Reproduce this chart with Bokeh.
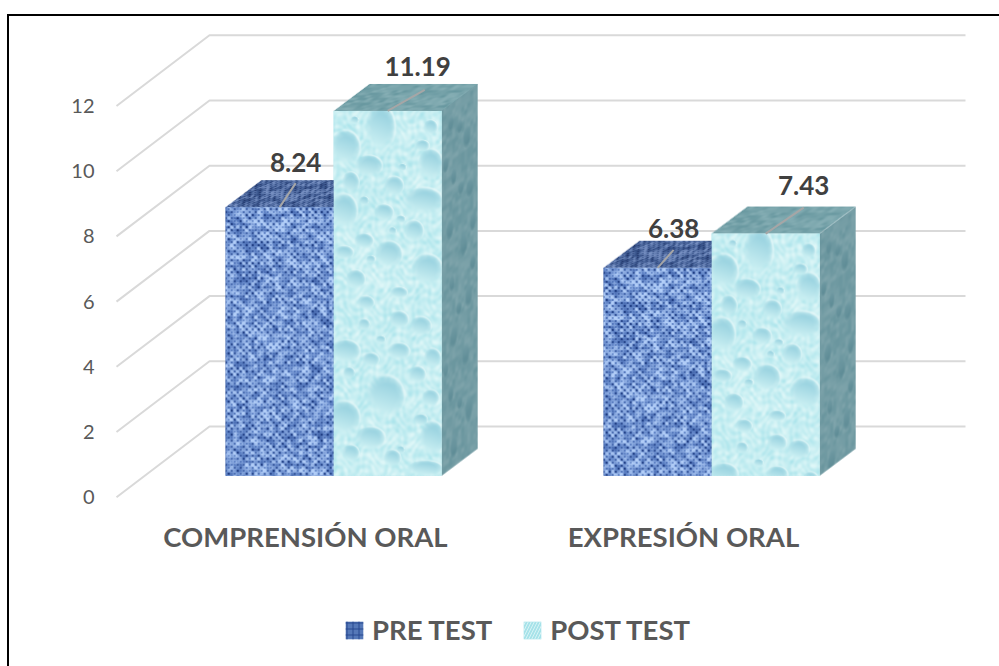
import numpy as np
from bokeh.embed import file_html
from bokeh.resources import INLINE
from bokeh.plotting import figure
from bokeh.models import FixedTicker, Legend, LegendItem, Range1d
from bokeh.core.properties import value

# ---- data ----
categories = ["COMPRENSIÓN ORAL", "EXPRESIÓN ORAL"]
pre_test = [8.24, 6.38]
post_test = [11.19, 7.43]
y_ticks = [0, 2, 4, 6, 8, 10, 12]
series_names = ["PRE TEST", "POST TEST"]

# ---- layout constants (screen pixels of the reference) ----
PX_X, PX_Y = 378.0, 32.6            # pixels per category / per value unit
X0_PX, Y0_PX = 305.0, 496.7         # screen position of category 0, value 0 on the front plane
DEPTH_X, DEPTH_Y = 93.0 / PX_X, 70.7 / PX_Y   # shift from the front to the back wall
D_FRONT, D_BACK = 0.303, 0.685      # depth of the bars' front and back faces
BAR_W = 108.0 / PX_X
SIDE_W, SIDE_H = 36, 27
LEADER = [[(16, 24), (16, 18)], [(37, 21), (38, 26)]]    # leader line (px), per series and category
LABEL = [[(16, -45), (16, -39)], [(30, -44), (38, -48)]]  # label centre from the leader foot (px)
TEXT = "#595959"
FONT = "Lato"

FIG_W, FIG_H = 999, 666
FRAME_L, FRAME_T, FRAME_B = 114, 8, 666

p = figure(width=FIG_W, height=FIG_H, output_backend="svg", toolbar_location=None,
           x_range=Range1d((FRAME_L - X0_PX) / PX_X, (FIG_W - X0_PX) / PX_X),
           y_range=Range1d((Y0_PX - FRAME_B) / PX_Y, (Y0_PX - FRAME_T) / PX_Y),
           min_border_left=FRAME_L, min_border_right=0, min_border_top=FRAME_T,
           min_border_bottom=0, outline_line_color=None,
           background_fill_color="white", border_fill_color="white")
p.grid.visible = False
p.stylesheets = [
    ":host::before{content:'';position:absolute;left:7px;top:13.5px;width:2px;height:653px;background:#000;z-index:5}"
    ":host::after{content:'';position:absolute;left:7px;top:13.5px;width:992px;height:2px;background:#000;z-index:5}"
]

# axes
for ax in (p.xaxis[0], p.yaxis[0]):
    ax.axis_line_color = None
    ax.major_tick_line_color = None
    ax.minor_tick_line_color = None
    ax.major_label_text_color = TEXT
    ax.major_label_text_font = FONT
p.yaxis[0].ticker = FixedTicker(ticks=y_ticks)
p.yaxis[0].major_label_text_font_size = "20px"
p.yaxis[0].major_label_standoff = 14
p.xaxis[0].ticker = FixedTicker(ticks=list(range(len(categories))))
p.xaxis[0].major_label_overrides = {i: c for i, c in enumerate(categories)}
p.xaxis[0].major_label_text_font_size = "27.5px"
p.xaxis[0].major_label_text_font_style = "bold"
p.xaxis[0].major_label_standoff = -33
p.xaxis[0].fixed_location = (Y0_PX - 546) / PX_Y

# walls' gridlines
gx = [[-0.5, -0.5 + DEPTH_X, 1.5 + DEPTH_X] for _ in y_ticks]
gy = [[t, t + DEPTH_Y, t + DEPTH_Y] for t in y_ticks]
p.multi_line(gx, gy, line_color="#D9D9D9", line_width=2)


# ---- textures (decoration only) ----
def lerp(a, b, t):
    a, b = np.array(a, float), np.array(b, float)
    return a + (b - a) * t[..., None]


def cell_hash(i, j):
    s = np.sin(i * 12.9898 + j * 78.233) * 43758.5453
    return s - np.floor(s)


def cell_noise(X, Y):
    i, j = np.floor(X), np.floor(Y)
    fx, fy = X - i, Y - j
    fx, fy = fx * fx * (3 - 2 * fx), fy * fy * (3 - 2 * fy)
    return ((1 - fx) * (1 - fy) * cell_hash(i, j) + fx * (1 - fy) * cell_hash(i + 1, j)
            + (1 - fx) * fy * cell_hash(i, j + 1) + fx * fy * cell_hash(i + 1, j + 1))


def weave_rgb(X, Y, dark, mid, light, period=6.0):
    # threads crossing on a regular mesh: dark knots at the crossings, light blotches between them
    col = np.floor(X / (period / 2))
    row = np.floor(Y / (period / 2))
    blot = cell_noise(X / 3.0, Y / 3.0)
    knot = np.clip(np.cos(2 * np.pi * X / period) * np.cos(2 * np.pi * Y / period), 0, 1)
    t = np.clip(0.30 + 0.75 * blot + 0.10 * cell_hash(col, row) - 0.55 * knot, 0, 1)
    low = lerp(dark, mid, np.clip(t * 2, 0, 1))
    high = lerp(mid, light, np.clip(t * 2 - 1, 0, 1))
    return np.where((t < 0.5)[..., None], low, high)


# droplets: centre x, centre y, radius x, radius y (1/3 px, as measured on 3x crops)
DROPS_A = [(150, 70, 38, 60), (45, 130, 38, 45), (115, 185, 35, 28), (300, 180, 32, 40), (60, 235, 22, 28),
           (190, 245, 25, 25), (280, 290, 50, 35), (40, 320, 35, 45), (160, 325, 25, 22), (250, 380, 25, 28),
           (100, 410, 25, 20), (40, 445, 25, 18), (175, 450, 35, 35), (290, 495, 40, 40), (75, 525, 25, 25),
           (275, 125, 18, 15), (300, 70, 18, 20), (215, 190, 10, 10), (100, 290, 12, 12),
           (210, 345, 12, 10), (185, 380, 10, 10), (120, 465, 12, 10), (72, 48, 10, 10)]
DROPS_B = [(105, 40, 22, 18), (205, 90, 25, 22), (100, 105, 15, 15), (270, 110, 28, 25), (45, 185, 38, 30),
           (205, 185, 28, 22), (120, 210, 22, 18), (305, 205, 22, 25), (260, 255, 22, 22), (55, 250, 15, 15),
           (165, 320, 50, 55), (300, 325, 22, 22), (40, 385, 42, 45), (120, 445, 38, 30), (305, 445, 32, 45),
           (270, 390, 18, 15), (210, 480, 10, 10), (60, 490, 22, 22), (185, 505, 22, 22), (285, 535, 45, 20),
           (205, 10, 22, 15), (150, 150, 12, 10)]
DROPS = [(x / 3 - 3, y / 3 - 6, a / 3 * 1.2, b / 3 * 1.2) for x, y, a, b in DROPS_A] + \
        [(x / 3 - 3, y / 3 + 179, a / 3 * 1.2, b / 3 * 1.2) for x, y, a, b in DROPS_B]


def droplets_rgb(X, Y):
    rip = 0.5 + 0.5 * np.sin(X * 0.42 + np.sin(Y * 0.17) * 3) * np.sin(Y * 0.37 + np.sin(X * 0.23) * 3)
    soft = cell_noise(X / 4.0, Y / 4.0)
    base = lerp((172, 229, 236), (222, 247, 248), np.clip(0.5 * rip + 0.6 * soft, 0, 1))
    rgb = base
    for cx, cy, rx, ry in DROPS:
        u, v = (X - cx) / rx, (Y - cy) / ry
        r2 = u * u + v * v
        alpha = np.clip((1 - r2) / 0.7, 0, 1) ** 0.8
        shade = np.clip(0.42 + 0.58 * (v - 0.3 * u), 0, 1)
        col = lerp((152, 210, 224), (208, 243, 245), shade)
        rgb = rgb * (1 - alpha[..., None]) + col * alpha[..., None]
        rim = np.exp(-((r2 - 0.9) / 0.14) ** 2) * np.clip(0.8 * u - 0.6 * v, 0, 1)
        rgb = rgb + (np.array([236, 251, 251]) - rgb) * (rim * 0.75)[..., None]
    return rgb


SIDE_DROPS = [(9, 20, 3, 9), (25, 45, 4, 12), (12, 75, 3, 9), (28, 98, 4, 10), (8, 125, 4, 11), (22, 150, 4, 12),
              (10, 180, 3, 9), (27, 205, 4, 12), (12, 235, 4, 11), (24, 262, 4, 12), (9, 290, 3, 9),
              (27, 318, 4, 14), (12, 345, 4, 12), (24, 372, 4, 11), (18, 30, 3, 7), (4, 58, 3, 8),
              (19, 92, 3, 7), (31, 135, 3, 9), (17, 210, 3, 7), (4, 262, 3, 8), (18, 305, 3, 7), (31, 175, 3, 8)]


def side_rgb(X, Y):
    t = np.clip(0.2 + 0.8 * cell_noise(X / 3.0, Y / 5.0), 0, 1)
    rgb = lerp((100, 146, 155), (128, 165, 172), t)
    for cx, cy, rx, ry in SIDE_DROPS:
        r2 = ((X - cx) / rx) ** 2 + ((Y - cy) / ry) ** 2
        a = (np.clip((1 - r2) / 0.7, 0, 1) * 0.8)[..., None]
        rgb = rgb * (1 - a) + lerp((84, 132, 143), (114, 156, 165), np.clip((Y - cy) / ry * -0.5 + 0.5, 0, 1)) * a
    return rgb


def rgba(rgb, alpha=None):
    h, w = rgb.shape[:2]
    out = np.zeros((h, w), dtype=np.uint32)
    view = out.view(dtype=np.uint8).reshape((h, w, 4))
    view[..., :3] = np.clip(rgb, 0, 255).astype(np.uint8)
    view[..., 3] = 255 if alpha is None else np.clip(alpha * 255, 0, 255).astype(np.uint8)
    return out[::-1]          # image rows run bottom-up


def grid(w, h):
    return np.meshgrid(np.arange(w) + 0.5, np.arange(h) + 0.5)


def front_image(kind, h):
    X, Y = grid(108, h)
    if kind == 0:
        return rgba(weave_rgb(X, Y, (30, 60, 130), (92, 128, 196), (178, 206, 248)))
    return rgba(droplets_rgb(X, Y))


def top_image(kind):
    w, h = 108 + SIDE_W, SIDE_H
    X, Y = grid(w, h)
    left = SIDE_W * (SIDE_H - Y) / SIDE_H
    alpha = np.clip(X - left + 0.5, 0, 1) * np.clip(left + 108 - X + 0.5, 0, 1)
    U, V = X - left, Y * 1.2
    if kind == 0:
        rgb = weave_rgb(U, V, (28, 48, 100), (62, 90, 145), (120, 145, 195), 5.0)
    else:
        t = cell_noise(U / 5.0, V / 3.0)
        rgb = lerp((104, 152, 160), (136, 176, 182), t)
    return rgba(rgb, alpha)


def side_image(h):
    w, hh = SIDE_W, h + SIDE_H
    X, Y = grid(w, hh)
    top = SIDE_H * (SIDE_W - X) / SIDE_W
    alpha = np.clip(Y - top + 0.5, 0, 1) * np.clip(top + h - Y + 0.5, 0, 1)
    return rgba(side_rgb(X, Y - top), alpha)


# ---- bars ----
x_shift = D_FRONT * DEPTH_X
y_shift = D_FRONT * DEPTH_Y
dx_side, dy_side = SIDE_W / PX_X, SIDE_H / PX_Y
series = [pre_test, post_test]
swatch = [("#5578B8", "cross", "#24448C"), ("#A6E2E9", "right_diagonal_line", "#DDF5F6")]
renderers = []

for k, vals in enumerate(series):
    idx = np.arange(len(vals))
    lefts = idx + x_shift - BAR_W * (1 - k)
    fill, hatch, hatch_col = swatch[k]
    r = p.vbar(x=lefts + BAR_W / 2, width=BAR_W, bottom=[y_shift] * len(vals),
               top=[v + y_shift for v in vals], fill_color=fill, line_color=None,
               hatch_pattern=hatch, hatch_color=hatch_col, hatch_scale=6, hatch_alpha=0.9)
    renderers.append(r)

for k, vals in enumerate(series):
    for i, v in enumerate(vals):
        left = i + x_shift - BAR_W * (1 - k)
        h = int(round(v * PX_Y))
        if k == 1:
            p.image_rgba(image=[side_image(h)], x=left + BAR_W, y=y_shift,
                         dw=dx_side, dh=v + dy_side)
        p.image_rgba(image=[top_image(k)], x=left, y=y_shift + v,
                     dw=BAR_W + dx_side, dh=dy_side)
for k, vals in enumerate(series):
    for i, v in enumerate(vals):
        left = i + x_shift - BAR_W * (1 - k)
        h = int(round(v * PX_Y))
        full = front_image(k, h)
        p.image_rgba(image=[full], x=left, y=y_shift, dw=BAR_W, dh=v)

# value labels and leader lines
for k, vals in enumerate(series):
    for i, v in enumerate(vals):
        mid = i + x_shift - BAR_W * (1 - k) + BAR_W / 2
        foot = y_shift + v
        lx, ly = LEADER[k][i]
        p.segment(x0=[mid], y0=[foot], x1=[mid + lx / PX_X], y1=[foot + ly / PX_Y],
                  line_color="#A6A6A6", line_width=2)
        ox, oy = LABEL[k][i]
        p.text(x=[mid + ox / PX_X], y=[foot - oy / PX_Y], text=[f"{v:.2f}"],
               text_color="#404040", text_font=value(FONT), text_font_style="bold",
               text_font_size="26px", text_align="center", text_baseline="middle")

# legend
legend = Legend(items=[LegendItem(label=n, renderers=[r]) for n, r in zip(series_names, renderers)],
                orientation="horizontal", location=(343 - FRAME_L, 20),
                background_fill_alpha=0, border_line_color=None, padding=0, margin=0,
                glyph_width=22, glyph_height=22, label_standoff=7, spacing=29,
                label_text_font=FONT, label_text_font_style="bold",
                label_text_font_size="27.5px", label_text_color=TEXT)
p.add_layout(legend, "center")

open("out.html", "w").write(file_html(p, INLINE))
